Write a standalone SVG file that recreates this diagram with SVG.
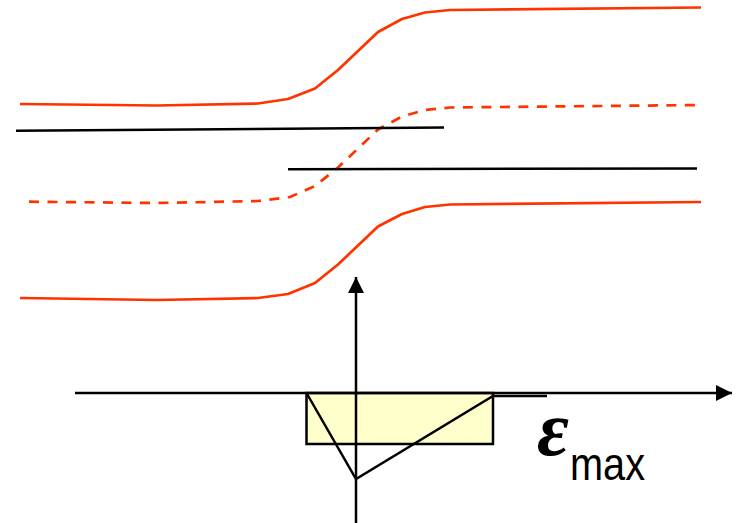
<svg xmlns="http://www.w3.org/2000/svg" width="738" height="523" viewBox="0 0 738 523">
<defs>
<style>
.red{fill:none;stroke:#ff3300;stroke-width:2.7;stroke-linejoin:round}
.dash{stroke-dasharray:10 8.5}
.blk{fill:none;stroke:#000;stroke-width:2.5}
.lbl{font-family:"Liberation Serif",serif;font-style:italic;font-weight:bold}
.sub{font-family:"Liberation Sans",Arial,sans-serif}
</style>
<marker id="arrH" viewBox="0 0 16 16" refX="16" refY="8" markerWidth="16" markerHeight="16" markerUnits="userSpaceOnUse" orient="auto">
<path d="M0,0 L16,8 L0,16 Z" fill="#000"/>
</marker>
</defs>
<rect width="738" height="523" fill="#fff"/>
<g id="curve-top">
<polyline class="red" points="20,104 157,105.5 258,103.5 288,99 315,88.5 338,70 378,32 402,19 425,12.5 450,10 701,7.5"/>
</g>
<g id="curve-mid">
<polyline class="red dash" points="29,201.7 157,203 258,201 290,197 315,186 338,167.5 378,129.5 402,116.5 425,110 450,107.5 701,105"/>
</g>
<g id="curve-bottom">
<polyline class="red" points="20,298 157,300 258,298 288,294 315,283 338,264.5 378,226.5 402,214 425,207 450,204.5 701,202"/>
</g>
<g id="lines">
<line class="blk" x1="16" y1="130.7" x2="444" y2="127.5"/>
<line class="blk" x1="288" y1="169.3" x2="697" y2="168.5"/>
</g>
<g id="strain-block">
<polygon points="306.5,393 493,393 493,444 306.5,444" fill="#ffffcc" stroke="#000" stroke-width="2.5"/>
<polyline class="blk" points="306.5,393 356,479 493,396 547,396"/>
</g>
<g id="axes">
<line class="blk" x1="75" y1="393" x2="732" y2="393" marker-end="url(#arrH)"/>
<line class="blk" x1="356" y1="523" x2="356" y2="277" marker-end="url(#arrH)"/>
</g>
<g id="label">
<text x="537" y="455" font-size="78" class="lbl">ε</text>
<text x="570" y="480" font-size="46" class="sub" textLength="75" lengthAdjust="spacingAndGlyphs">max</text>
</g>
</svg>
